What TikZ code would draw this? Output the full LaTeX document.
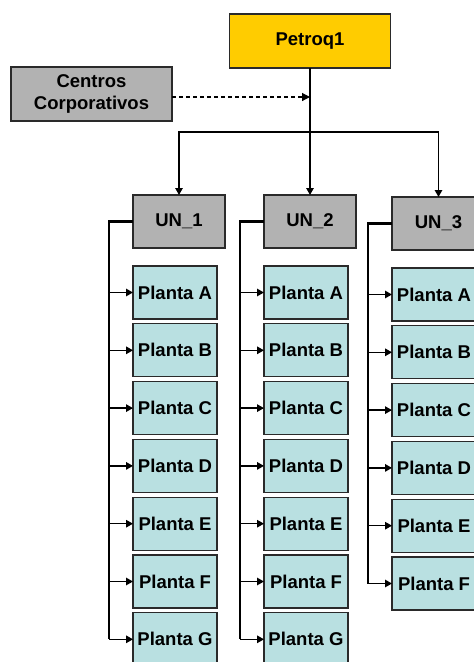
\documentclass[tikz,border=0pt]{standalone}
\usepackage{fontspec}
\setmainfont{Liberation Sans}
\usetikzlibrary{arrows.meta}
\definecolor{gold}{HTML}{FFCC00}
\definecolor{boxgray}{HTML}{B2B2B2}
\definecolor{plant}{HTML}{B9E0E1}
\definecolor{edgec}{HTML}{2A2A2A}
\tikzset{
  box/.style={draw=edgec, line width=1.3pt, inner sep=0pt, outer sep=0pt,
    font=\fontsize{18.5}{21.5}\selectfont\bfseries, align=center},
  topbox/.style={box, fill=gold, minimum width=161pt, minimum height=54pt},
  ccbox/.style={box, fill=boxgray, minimum width=161pt, minimum height=54pt},
  unbox/.style={box, fill=boxgray, minimum width=92pt, minimum height=53pt},
  plbox/.style={box, fill=plant, minimum width=84pt, minimum height=53pt},
  conn/.style={line width=1.4pt, black},
  arr/.style={conn, -{Triangle[length=7pt,width=7.5pt]}},
  busline/.style={line width=2.2pt, black},
  dasharr/.style={line width=1.2pt, dashed, dash pattern=on 4pt off 3pt, -{Triangle[length=8pt,width=8pt]}}
}
\begin{document}
\begin{tikzpicture}[x=1pt,y=-1pt]
\useasboundingbox (0,0) rectangle (474,662);
\clip (0,0) rectangle (474,662);
\fill[white] (0,0) rectangle (474,662);

\node[topbox] (pet) at (310,41) {Petroq1};
\node[ccbox] (cc) at (91.5,94) {Centros\\Corporativos};

\node[unbox] (un1) at (179,221.5) {UN\_1};
\node[unbox] (un2) at (310,221.5) {UN\_2};
\node[unbox, minimum width=93pt] (un3) at (438.5,223.5) {UN\_3};

\coordinate (j) at (310,132);
\coordinate (dj) at (310,97);
\draw[conn] (pet.south) -- (j);
\draw[arr] (j) -| (un1.north);
\draw[arr] (j) -- (un2.north);
\draw[arr] (j) -| (un3.north);
\draw[dasharr] (cc.east |- dj) -- (dj);

\foreach \l [count=\i from 0] in {A,B,C,D,E,F,G}{
  \node[plbox] (p1\l) at (175,292.5+57.8*\i) {Planta \l};
  \node[plbox] (p2\l) at (306,292.5+57.8*\i) {Planta \l};
}
\foreach \l [count=\i from 0] in {A,B,C,D,E,F}{
  \node[plbox] (p3\l) at (434,294.5+57.8*\i) {Planta \l};
}

\coordinate (b1) at (109,0);
\coordinate (b2) at (240,0);
\coordinate (b3) at (368,0);

\draw[busline] (un1.west) -- (un1.west -| b1) -- (p1G.west -| b1);
\draw[busline] (un2.west) -- (un2.west -| b2) -- (p2G.west -| b2);
\draw[busline] (un3.west) -- (un3.west -| b3) -- (p3F.west -| b3);

\foreach \l in {A,B,C,D,E,F,G}{
  \draw[arr] (p1\l.west -| b1) -- (p1\l.west);
  \draw[arr] (p2\l.west -| b2) -- (p2\l.west);
}
\foreach \l in {A,B,C,D,E,F}{
  \draw[arr] (p3\l.west -| b3) -- (p3\l.west);
}
\end{tikzpicture}
\end{document}
